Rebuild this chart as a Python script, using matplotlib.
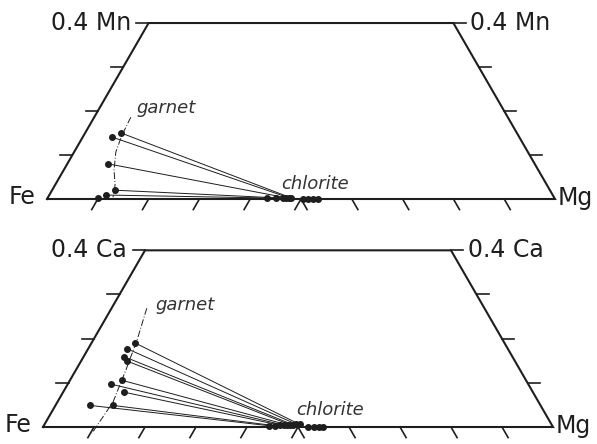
import numpy as np
import matplotlib
matplotlib.use("Agg")
import matplotlib.pyplot as plt

# compositions as fractions (third component, Mg); Fe = 1 - third - Mg
# upper panel: Mn-Fe-Mg
mn_garnet = [0.150, 0.141, 0.080, 0.020, 0.009, 0.002]
mg_garnet_mn = [0.071, 0.057, 0.080, 0.124, 0.112, 0.099]
mn_chlorite = [0.003, 0.003, 0.003, 0.002, 0.002, 0.002]
mg_chlorite_mn = [0.478, 0.474, 0.469, 0.463, 0.449, 0.433]
mn_chl_free = [0.0, 0.0, 0.0, 0.0]
mg_chl_free_mn = [0.504, 0.514, 0.524, 0.533]
mn_trend = [0.186, 0.145, 0.107, 0.066, 0.032, 0.004]
mg_trend_mn = [0.072, 0.075, 0.082, 0.099, 0.118, 0.128]

# lower panel: Ca-Fe-Mg
ca_garnet = [0.190, 0.177, 0.159, 0.149, 0.106, 0.097, 0.079, 0.049, 0.049]
mg_garnet_ca = [0.086, 0.077, 0.080, 0.091, 0.101, 0.085, 0.119, 0.067, 0.112]
ca_chlorite = [0.006, 0.006, 0.005, 0.005, 0.005, 0.004, 0.004, 0.003, 0.003]
mg_chlorite_ca = [0.500, 0.494, 0.488, 0.482, 0.476, 0.471, 0.463, 0.441, 0.453]
ca_chl_free = [0.0, 0.0, 0.0, 0.0]
mg_chl_free_ca = [0.520, 0.531, 0.541, 0.549]
ca_trend = [0.269, 0.197, 0.129, 0.057, -0.014]
mg_trend_ca = [0.069, 0.086, 0.098, 0.109, 0.103]

tick_vals = [0.1, 0.2, 0.3, 0.4, 0.5, 0.6, 0.7, 0.8, 0.9]
side_ticks = [0.1, 0.2, 0.3, 0.4]

INK = "#1e1e1e"
S3 = np.sqrt(3) / 2


def to_xy(third, mg):
    third = np.asarray(third, dtype=float)
    mg = np.asarray(mg, dtype=float)
    return mg + third / 2, third * S3


def draw_panel(ax, name, t_g, m_g, t_c, m_c, t_f, m_f, t_tr, m_tr, labels):
    L = 0.024
    top = 0.4
    # frame
    fx, fy = to_xy([0, 0, top, top, 0], [0, 1, 1 - top, 0, 0])
    ax.plot(fx, fy, color=INK, lw=1.5, solid_joinstyle="miter")
    # side ticks (horizontal, outward)
    for v in side_ticks:
        x, y = to_xy(v, 0)
        ax.plot([x - L, x], [y, y], color=INK, lw=1.2)
        x, y = to_xy(v, 1 - v)
        ax.plot([x, x + L], [y, y], color=INK, lw=1.2)
    # bottom ticks (slanted)
    for v in tick_vals:
        if v <= 0.5:
            ax.plot([v, v - L * 0.5], [0, -L * S3], color=INK, lw=1.2)
        if v >= 0.5:
            ax.plot([v, v + L * 0.5], [0, -L * S3], color=INK, lw=1.2)
    # tie lines
    gx, gy = to_xy(t_g, m_g)
    cx, cy = to_xy(t_c, m_c)
    for i in range(len(gx)):
        ax.plot([gx[i], cx[i]], [gy[i], cy[i]], color=INK, lw=0.7)
    ax.plot(gx, gy, "o", color=INK, ms=4)
    ax.plot(cx, cy, "o", color=INK, ms=4)
    fx2, fy2 = to_xy(t_f, m_f)
    ax.plot(fx2, fy2, "o", color=INK, ms=4)
    # garnet trend
    tx, ty = to_xy(t_tr, m_tr)
    ax.plot(tx, ty, color=INK, lw=0.7, ls=(0, (7, 2, 1, 2)))

    ytop = top * S3
    ax.text(0.2 - 0.035, ytop, "0.4 " + name, ha="right", va="center",
            fontsize=17, color=INK)
    ax.text(0.8 + 0.033, ytop, "0.4 " + name, ha="left", va="center",
            fontsize=17, color=INK)
    ax.text(-0.022, 0.004, "Fe", ha="right", va="center", fontsize=17, color=INK)
    ax.text(1.006, 0.002, "Mg", ha="left", va="center", fontsize=17, color=INK)
    ax.text(labels[0][0], labels[0][1], "garnet", ha="left", va="center",
            fontsize=13, style="italic", color="#333333")
    ax.text(labels[1][0], labels[1][1], "chlorite", ha="left", va="center",
            fontsize=13, style="italic", color="#333333")
    ax.set_axis_off()


fig = plt.figure(figsize=(5.97, 4.44), dpi=100)
W, H = 597, 444

# upper panel: Fe at pixel (47,199), base 508 px
ax1 = fig.add_axes([0, 1 - 222 / H, 1, 222 / H])
ax1.set_xlim(-47 / 508, (W - 47) / 508)
ax1.set_ylim((199 - 222) / 508, 199 / 508)
draw_panel(ax1, "Mn", mn_garnet, mg_garnet_mn, mn_chlorite, mg_chlorite_mn,
           mn_chl_free, mg_chl_free_mn, mn_trend, mg_trend_mn,
           [(0.177, 0.179), (0.46, 0.03)])

# lower panel: Fe at pixel (43,427), base 510 px
ax2 = fig.add_axes([0, 0, 1, 222 / H])
ax2.set_xlim(-43 / 510, (W - 43) / 510)
ax2.set_ylim((427 - H) / 510, (427 - 222) / 510)
draw_panel(ax2, "Ca", ca_garnet, mg_garnet_ca, ca_chlorite, mg_chlorite_ca,
           ca_chl_free, mg_chl_free_ca, ca_trend, mg_trend_ca,
           [(0.22, 0.24), (0.497, 0.033)])

fig.savefig("out.png", dpi=100, facecolor="white")
